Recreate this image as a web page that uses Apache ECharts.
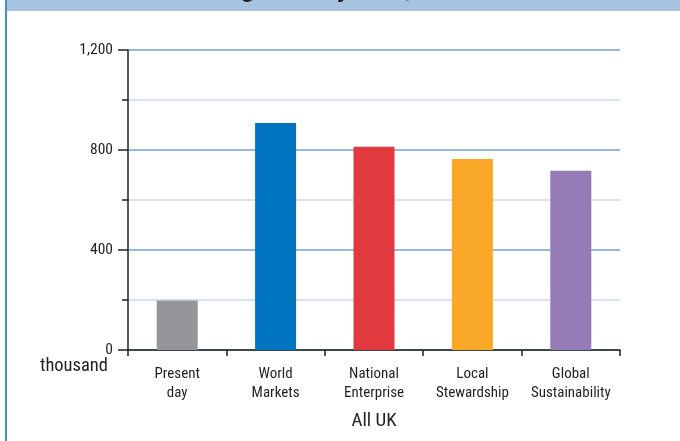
<!DOCTYPE html>
<html>
<head>
<meta charset="utf-8">
<script src="https://cdn.jsdelivr.net/npm/echarts@6/dist/echarts.min.js"></script>
<style>
html,body{margin:0;padding:0;background:#fff;}
#c{width:680px;height:441px;}
</style>
</head>
<body>
<div id="c"></div>
<script>
var categories = ['Present\nday', 'World\nMarkets', 'National\nEnterprise', 'Local\nStewardship', 'Global\nSustainability'];
var values = [198, 908, 813, 764, 717];
var barColors = ['#96969a', '#0075bf', '#e03a3f', '#f9a828', '#967cb7'];
var yTickLabels = ['0', '400', '800', '1,200'];
var unitLabel = 'thousand';
var xAxisTitle = 'All UK';

var FONT = '"Liberation Sans Narrow", "Roboto Condensed", "Liberation Sans", sans-serif';
var chart = echarts.init(document.getElementById('c'), null, {renderer: 'canvas'});
chart.setOption({
  animation: false,
  backgroundColor: '#ffffff',
  grid: {left: 128, right: 60, top: 50, bottom: 91, containLabel: false},
  xAxis: {
    type: 'category',
    data: categories,
    name: xAxisTitle,
    nameLocation: 'middle',
    nameGap: 62,
    nameTextStyle: {fontFamily: FONT, fontSize: 19, color: '#231f20'},
    axisLine: {show: true, lineStyle: {color: '#231f20', width: 1.5}},
    axisTick: {show: true, alignWithLabel: false, length: 6, lineStyle: {color: '#231f20', width: 1.5}},
    axisLabel: {fontFamily: FONT, fontSize: 15, color: '#231f20', margin: 15, lineHeight: 19, interval: 0},
    splitLine: {show: false}
  },
  yAxis: {
    type: 'value',
    min: 0,
    max: 1200,
    interval: 400,
    axisLine: {show: true, lineStyle: {color: '#231f20', width: 1.5}},
    axisTick: {show: true, length: 10, lineStyle: {color: '#231f20', width: 1.5}},
    minorTick: {show: true, splitNumber: 2, length: 6, lineStyle: {color: '#231f20', width: 1.5}},
    axisLabel: {
      fontFamily: FONT, fontSize: 15.5, color: '#231f20', margin: 15,
      formatter: function (v) { return yTickLabels[Math.round(v / 400)]; }
    },
    splitLine: {show: true, lineStyle: {color: '#93bbdf', width: 2}},
    minorSplitLine: {show: true, lineStyle: {color: '#d6e2f1', width: 2}}
  },
  series: [{
    type: 'bar',
    data: values.map(function (v, i) { return {value: v, itemStyle: {color: barColors[i]}}; }),
    barWidth: 41,
    z: 3
  }],
  graphic: [
    {type: 'rect', shape: {x: 7, y: 0, width: 673, height: 11}, style: {fill: '#a6c3e0'}, z: 0},
    {type: 'rect', shape: {x: 5, y: 0, width: 2, height: 441}, style: {fill: '#3f90d3'}, z: 0},
    {type: 'text', left: 168, top: -20, style: {text: 'Housing stock by 2025, UK', fontFamily: '"Liberation Sans", Arial, sans-serif', fontSize: 22, fontWeight: 'bold', fontStyle: 'italic', fill: '#231f20'}, z: 1},
    {type: 'text', right: 572, top: 357, style: {text: unitLabel, fontFamily: FONT, fontSize: 18.5, fill: '#231f20', textAlign: 'right'}, z: 1}
  ]
});
</script>
</body>
</html>
